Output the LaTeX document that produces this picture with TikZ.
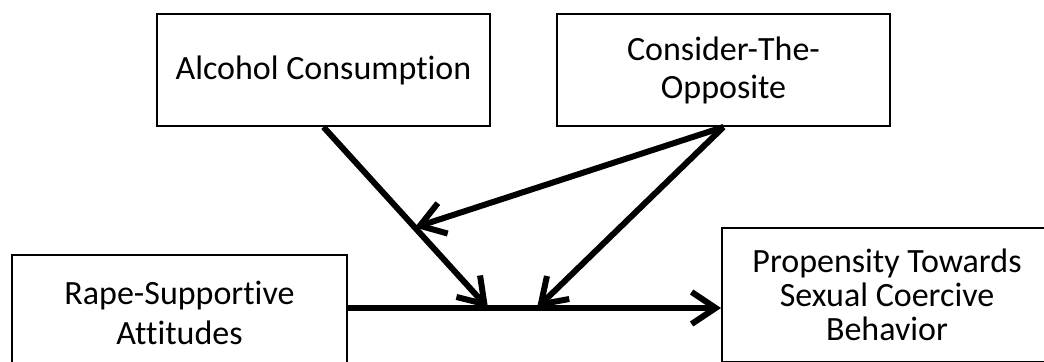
\documentclass[tikz,border=0pt]{standalone}
\usepackage{fontspec}
\setmainfont{Carlito}[Ligatures=NoCommon]
\usetikzlibrary{arrows.meta}

\begin{document}
\begin{tikzpicture}[x=0.5pt,y=-0.5pt,
  box/.style={draw,line width=1pt,align=center,
    minimum width=166.5pt,minimum height=56pt,
    font=\fontsize{17}{19}\selectfont},
  conn/.style={line width=3pt,-{Straight Barb[length=12pt,width=16pt]}}]
  \useasboundingbox (0,0) rectangle (1044,362);
  \clip (0,0) rectangle (1044,362);
  \node[box] (alcohol) at (323.5,70) {Alcohol Consumption};
  \node[box] (consider) at (723.5,70) {Consider-The-\\Opposite};
  \node[box,minimum width=167.5pt,minimum height=58pt,font=\fontsize{17}{20}\selectfont] (rape) at (179.5,313) {Rape-Supportive\\Attitudes};
  \node[box,minimum width=165pt,minimum height=67pt,font=\fontsize{17}{17}\selectfont] (propensity) at (887,295) {Propensity Towards\\Sexual Coercive\\Behavior};
  \coordinate (hitA) at (488,308);
  \coordinate (hitC) at (537,308);
  % main path
  \draw[conn] (rape.east |- hitA) -- (propensity.west |- hitA);
  % moderators
  \draw[conn] (alcohol.south) -- (hitA) coordinate[pos=0.555] (onA);
  \draw[conn] (consider.south) -- (hitC);
  \draw[conn] (consider.south) -- (onA);
\end{tikzpicture}
\end{document}
